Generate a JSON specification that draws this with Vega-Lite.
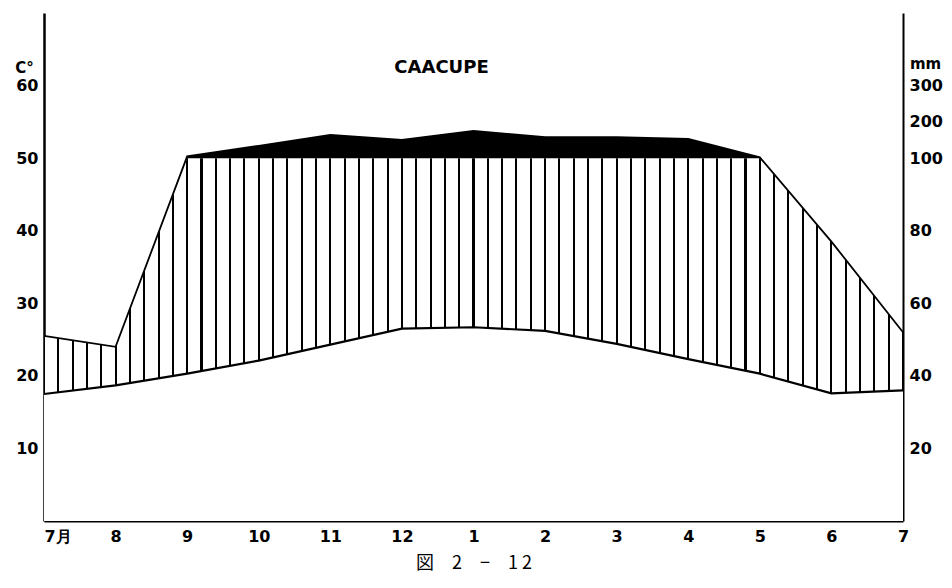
{
  "$schema": "https://vega.github.io/schema/vega-lite/v6.json",
  "width": 859,
  "height": 508,
  "autosize": "none",
  "padding": {"left": 44, "top": 13, "right": 49, "bottom": 67},
  "background": "white",
  "title": {"text": "CAACUPE", "anchor": "middle", "frame": "group", "dx": -32, "dy": 68, "font": "DejaVu Sans", "fontSize": 18, "fontWeight": "bold", "color": "#000"},
  "config": {
    "view": {"stroke": null},
    "axis": {"labelFont": "DejaVu Sans", "labelFontSize": 16, "labelFontWeight": "bold", "labelColor": "#000", "domainColor": "#000", "ticks": false, "grid": false, "titleColor": "#000"}
  },
  "data": {"values": [
    {"i": 0, "temp": 17.5, "prec": 51},
    {"i": 1, "temp": 18.7, "prec": 48},
    {"i": 2, "temp": 20.3, "prec": 105},
    {"i": 3, "temp": 22.1, "prec": 134},
    {"i": 4, "temp": 24.3, "prec": 164},
    {"i": 5, "temp": 26.5, "prec": 150},
    {"i": 6, "temp": 26.7, "prec": 175},
    {"i": 7, "temp": 26.2, "prec": 158},
    {"i": 8, "temp": 24.4, "prec": 158},
    {"i": 9, "temp": 22.3, "prec": 153},
    {"i": 10, "temp": 20.3, "prec": 102},
    {"i": 11, "temp": 17.6, "prec": 77},
    {"i": 12, "temp": 18.0, "prec": 52}
  ]},
  "encoding": {
    "x": {"field": "i", "type": "quantitative", "scale": {"domain": [0, 12], "nice": false},
      "axis": {"values": [0,1,2,3,4,5,6,7,8,9,10,11,12], "labelExpr": "['7月','8','9','10','11','12','1','2','3','4','5','6','7'][datum.value]", "labelAlign": {"expr": "datum.value == 0 ? 'left' : 'center'"}, "domainWidth": 2, "labelPadding": 7, "labelFlush": false, "labelOverlap": false, "title": "図　2　−　1 2", "titleFont": "Noto Sans CJK JP", "titleFontSize": 18, "titleFontWeight": "normal", "titlePadding": 10}}
  },
  "layer": [
    {
      "mark": {"type": "area", "fill": {"gradient": "linear", "x1": 0, "x2": 1, "y1": 0, "y2": 0, "stops": [
        {"offset": 0, "color": "#000"}, {"offset": 0.0012, "color": "#000"}, {"offset": 0.0012, "color": "#fff"},
        {"offset": 0.015467, "color": "#fff"}, {"offset": 0.015467, "color": "#000"}, {"offset": 0.017867, "color": "#000"}, {"offset": 0.017867, "color": "#fff"},
        {"offset": 0.032133, "color": "#fff"}, {"offset": 0.032133, "color": "#000"}, {"offset": 0.034533, "color": "#000"}, {"offset": 0.034533, "color": "#fff"},
        {"offset": 0.0488, "color": "#fff"}, {"offset": 0.0488, "color": "#000"}, {"offset": 0.0512, "color": "#000"}, {"offset": 0.0512, "color": "#fff"},
        {"offset": 0.065467, "color": "#fff"}, {"offset": 0.065467, "color": "#000"}, {"offset": 0.067867, "color": "#000"}, {"offset": 0.067867, "color": "#fff"},
        {"offset": 0.082133, "color": "#fff"}, {"offset": 0.082133, "color": "#000"}, {"offset": 0.084533, "color": "#000"}, {"offset": 0.084533, "color": "#fff"},
        {"offset": 0.0988, "color": "#fff"}, {"offset": 0.0988, "color": "#000"}, {"offset": 0.1012, "color": "#000"}, {"offset": 0.1012, "color": "#fff"},
        {"offset": 0.115467, "color": "#fff"}, {"offset": 0.115467, "color": "#000"}, {"offset": 0.117867, "color": "#000"}, {"offset": 0.117867, "color": "#fff"},
        {"offset": 0.132133, "color": "#fff"}, {"offset": 0.132133, "color": "#000"}, {"offset": 0.134533, "color": "#000"}, {"offset": 0.134533, "color": "#fff"},
        {"offset": 0.1488, "color": "#fff"}, {"offset": 0.1488, "color": "#000"}, {"offset": 0.1512, "color": "#000"}, {"offset": 0.1512, "color": "#fff"},
        {"offset": 0.165467, "color": "#fff"}, {"offset": 0.165467, "color": "#000"}, {"offset": 0.167867, "color": "#000"}, {"offset": 0.167867, "color": "#fff"},
        {"offset": 0.182133, "color": "#fff"}, {"offset": 0.182133, "color": "#000"}, {"offset": 0.184533, "color": "#000"}, {"offset": 0.184533, "color": "#fff"},
        {"offset": 0.1988, "color": "#fff"}, {"offset": 0.1988, "color": "#000"}, {"offset": 0.2012, "color": "#000"}, {"offset": 0.2012, "color": "#fff"},
        {"offset": 0.215467, "color": "#fff"}, {"offset": 0.215467, "color": "#000"}, {"offset": 0.217867, "color": "#000"}, {"offset": 0.217867, "color": "#fff"},
        {"offset": 0.232133, "color": "#fff"}, {"offset": 0.232133, "color": "#000"}, {"offset": 0.234533, "color": "#000"}, {"offset": 0.234533, "color": "#fff"},
        {"offset": 0.2488, "color": "#fff"}, {"offset": 0.2488, "color": "#000"}, {"offset": 0.2512, "color": "#000"}, {"offset": 0.2512, "color": "#fff"},
        {"offset": 0.265467, "color": "#fff"}, {"offset": 0.265467, "color": "#000"}, {"offset": 0.267867, "color": "#000"}, {"offset": 0.267867, "color": "#fff"},
        {"offset": 0.282133, "color": "#fff"}, {"offset": 0.282133, "color": "#000"}, {"offset": 0.284533, "color": "#000"}, {"offset": 0.284533, "color": "#fff"},
        {"offset": 0.2988, "color": "#fff"}, {"offset": 0.2988, "color": "#000"}, {"offset": 0.3012, "color": "#000"}, {"offset": 0.3012, "color": "#fff"},
        {"offset": 0.315467, "color": "#fff"}, {"offset": 0.315467, "color": "#000"}, {"offset": 0.317867, "color": "#000"}, {"offset": 0.317867, "color": "#fff"},
        {"offset": 0.332133, "color": "#fff"}, {"offset": 0.332133, "color": "#000"}, {"offset": 0.334533, "color": "#000"}, {"offset": 0.334533, "color": "#fff"},
        {"offset": 0.3488, "color": "#fff"}, {"offset": 0.3488, "color": "#000"}, {"offset": 0.3512, "color": "#000"}, {"offset": 0.3512, "color": "#fff"},
        {"offset": 0.365467, "color": "#fff"}, {"offset": 0.365467, "color": "#000"}, {"offset": 0.367867, "color": "#000"}, {"offset": 0.367867, "color": "#fff"},
        {"offset": 0.382133, "color": "#fff"}, {"offset": 0.382133, "color": "#000"}, {"offset": 0.384533, "color": "#000"}, {"offset": 0.384533, "color": "#fff"},
        {"offset": 0.3988, "color": "#fff"}, {"offset": 0.3988, "color": "#000"}, {"offset": 0.4012, "color": "#000"}, {"offset": 0.4012, "color": "#fff"},
        {"offset": 0.415467, "color": "#fff"}, {"offset": 0.415467, "color": "#000"}, {"offset": 0.417867, "color": "#000"}, {"offset": 0.417867, "color": "#fff"},
        {"offset": 0.432133, "color": "#fff"}, {"offset": 0.432133, "color": "#000"}, {"offset": 0.434533, "color": "#000"}, {"offset": 0.434533, "color": "#fff"},
        {"offset": 0.4488, "color": "#fff"}, {"offset": 0.4488, "color": "#000"}, {"offset": 0.4512, "color": "#000"}, {"offset": 0.4512, "color": "#fff"},
        {"offset": 0.465467, "color": "#fff"}, {"offset": 0.465467, "color": "#000"}, {"offset": 0.467867, "color": "#000"}, {"offset": 0.467867, "color": "#fff"},
        {"offset": 0.482133, "color": "#fff"}, {"offset": 0.482133, "color": "#000"}, {"offset": 0.484533, "color": "#000"}, {"offset": 0.484533, "color": "#fff"},
        {"offset": 0.4988, "color": "#fff"}, {"offset": 0.4988, "color": "#000"}, {"offset": 0.5012, "color": "#000"}, {"offset": 0.5012, "color": "#fff"},
        {"offset": 0.515467, "color": "#fff"}, {"offset": 0.515467, "color": "#000"}, {"offset": 0.517867, "color": "#000"}, {"offset": 0.517867, "color": "#fff"},
        {"offset": 0.532133, "color": "#fff"}, {"offset": 0.532133, "color": "#000"}, {"offset": 0.534533, "color": "#000"}, {"offset": 0.534533, "color": "#fff"},
        {"offset": 0.5488, "color": "#fff"}, {"offset": 0.5488, "color": "#000"}, {"offset": 0.5512, "color": "#000"}, {"offset": 0.5512, "color": "#fff"},
        {"offset": 0.565467, "color": "#fff"}, {"offset": 0.565467, "color": "#000"}, {"offset": 0.567867, "color": "#000"}, {"offset": 0.567867, "color": "#fff"},
        {"offset": 0.582133, "color": "#fff"}, {"offset": 0.582133, "color": "#000"}, {"offset": 0.584533, "color": "#000"}, {"offset": 0.584533, "color": "#fff"},
        {"offset": 0.5988, "color": "#fff"}, {"offset": 0.5988, "color": "#000"}, {"offset": 0.6012, "color": "#000"}, {"offset": 0.6012, "color": "#fff"},
        {"offset": 0.615467, "color": "#fff"}, {"offset": 0.615467, "color": "#000"}, {"offset": 0.617867, "color": "#000"}, {"offset": 0.617867, "color": "#fff"},
        {"offset": 0.632133, "color": "#fff"}, {"offset": 0.632133, "color": "#000"}, {"offset": 0.634533, "color": "#000"}, {"offset": 0.634533, "color": "#fff"},
        {"offset": 0.6488, "color": "#fff"}, {"offset": 0.6488, "color": "#000"}, {"offset": 0.6512, "color": "#000"}, {"offset": 0.6512, "color": "#fff"},
        {"offset": 0.665467, "color": "#fff"}, {"offset": 0.665467, "color": "#000"}, {"offset": 0.667867, "color": "#000"}, {"offset": 0.667867, "color": "#fff"},
        {"offset": 0.682133, "color": "#fff"}, {"offset": 0.682133, "color": "#000"}, {"offset": 0.684533, "color": "#000"}, {"offset": 0.684533, "color": "#fff"},
        {"offset": 0.6988, "color": "#fff"}, {"offset": 0.6988, "color": "#000"}, {"offset": 0.7012, "color": "#000"}, {"offset": 0.7012, "color": "#fff"},
        {"offset": 0.715467, "color": "#fff"}, {"offset": 0.715467, "color": "#000"}, {"offset": 0.717867, "color": "#000"}, {"offset": 0.717867, "color": "#fff"},
        {"offset": 0.732133, "color": "#fff"}, {"offset": 0.732133, "color": "#000"}, {"offset": 0.734533, "color": "#000"}, {"offset": 0.734533, "color": "#fff"},
        {"offset": 0.7488, "color": "#fff"}, {"offset": 0.7488, "color": "#000"}, {"offset": 0.7512, "color": "#000"}, {"offset": 0.7512, "color": "#fff"},
        {"offset": 0.765467, "color": "#fff"}, {"offset": 0.765467, "color": "#000"}, {"offset": 0.767867, "color": "#000"}, {"offset": 0.767867, "color": "#fff"},
        {"offset": 0.782133, "color": "#fff"}, {"offset": 0.782133, "color": "#000"}, {"offset": 0.784533, "color": "#000"}, {"offset": 0.784533, "color": "#fff"},
        {"offset": 0.7988, "color": "#fff"}, {"offset": 0.7988, "color": "#000"}, {"offset": 0.8012, "color": "#000"}, {"offset": 0.8012, "color": "#fff"},
        {"offset": 0.815467, "color": "#fff"}, {"offset": 0.815467, "color": "#000"}, {"offset": 0.817867, "color": "#000"}, {"offset": 0.817867, "color": "#fff"},
        {"offset": 0.832133, "color": "#fff"}, {"offset": 0.832133, "color": "#000"}, {"offset": 0.834533, "color": "#000"}, {"offset": 0.834533, "color": "#fff"},
        {"offset": 0.8488, "color": "#fff"}, {"offset": 0.8488, "color": "#000"}, {"offset": 0.8512, "color": "#000"}, {"offset": 0.8512, "color": "#fff"},
        {"offset": 0.865467, "color": "#fff"}, {"offset": 0.865467, "color": "#000"}, {"offset": 0.867867, "color": "#000"}, {"offset": 0.867867, "color": "#fff"},
        {"offset": 0.882133, "color": "#fff"}, {"offset": 0.882133, "color": "#000"}, {"offset": 0.884533, "color": "#000"}, {"offset": 0.884533, "color": "#fff"},
        {"offset": 0.8988, "color": "#fff"}, {"offset": 0.8988, "color": "#000"}, {"offset": 0.9012, "color": "#000"}, {"offset": 0.9012, "color": "#fff"},
        {"offset": 0.915467, "color": "#fff"}, {"offset": 0.915467, "color": "#000"}, {"offset": 0.917867, "color": "#000"}, {"offset": 0.917867, "color": "#fff"},
        {"offset": 0.932133, "color": "#fff"}, {"offset": 0.932133, "color": "#000"}, {"offset": 0.934533, "color": "#000"}, {"offset": 0.934533, "color": "#fff"},
        {"offset": 0.9488, "color": "#fff"}, {"offset": 0.9488, "color": "#000"}, {"offset": 0.9512, "color": "#000"}, {"offset": 0.9512, "color": "#fff"},
        {"offset": 0.965467, "color": "#fff"}, {"offset": 0.965467, "color": "#000"}, {"offset": 0.967867, "color": "#000"}, {"offset": 0.967867, "color": "#fff"},
        {"offset": 0.982133, "color": "#fff"}, {"offset": 0.982133, "color": "#000"}, {"offset": 0.984533, "color": "#000"}, {"offset": 0.984533, "color": "#fff"},
        {"offset": 0.9988, "color": "#fff"}, {"offset": 0.9988, "color": "#000"}, {"offset": 1, "color": "#000"}
      ]}, "stroke": null},
      "encoding": {"y": {"field": "prec", "type": "quantitative", "scale": {"domain": [0, 100], "range": [508, 145.14], "clamp": true, "nice": false}, "axis": null}}
    },
    {
      "mark": {"type": "area", "fill": "#fff"},
      "encoding": {"y": {"field": "temp", "type": "quantitative", "scale": {"domain": [0, 70], "nice": false},
        "axis": {"orient": "left", "values": [10, 20, 30, 40, 50, 60], "domainWidth": 2.5, "labelPadding": 6, "title": "C°", "titleAngle": 0, "titleX": -20, "titleY": 54, "titleAlign": "center", "titleBaseline": "middle", "titleFont": "DejaVu Sans", "titleFontSize": 15, "titleFontWeight": "bold"}}}
    },
    {
      "transform": [{"filter": "datum.prec >= 100"}],
      "mark": {"type": "area", "fill": "#000"},
      "encoding": {
        "y": {"field": "prec", "type": "quantitative", "scale": {"domain": [100, 500], "range": [145.14, 0], "nice": false}, "axis": null},
        "y2": {"datum": 100}
      }
    },
    {
      "mark": {"type": "line", "stroke": "#000", "strokeWidth": 1.8},
      "encoding": {"y": {"field": "prec", "type": "quantitative", "scale": {"domain": [0, 100, 500], "range": [508, 145.14, 0], "nice": false},
        "axis": {"orient": "right", "values": [20, 40, 60, 80, 100, 200, 300], "domainWidth": 2, "labelPadding": 6, "title": "mm", "titleAngle": 0, "titleX": 22, "titleY": 50, "titleAlign": "center", "titleBaseline": "middle", "titleFont": "DejaVu Sans", "titleFontSize": 15, "titleFontWeight": "bold"}}}
    },
    {
      "mark": {"type": "line", "stroke": "#000", "strokeWidth": 2.2},
      "encoding": {"y": {"field": "temp", "type": "quantitative", "scale": {"domain": [0, 70], "nice": false}, "axis": null}}
    }
  ],
  "resolve": {"scale": {"y": "independent"}}
}
